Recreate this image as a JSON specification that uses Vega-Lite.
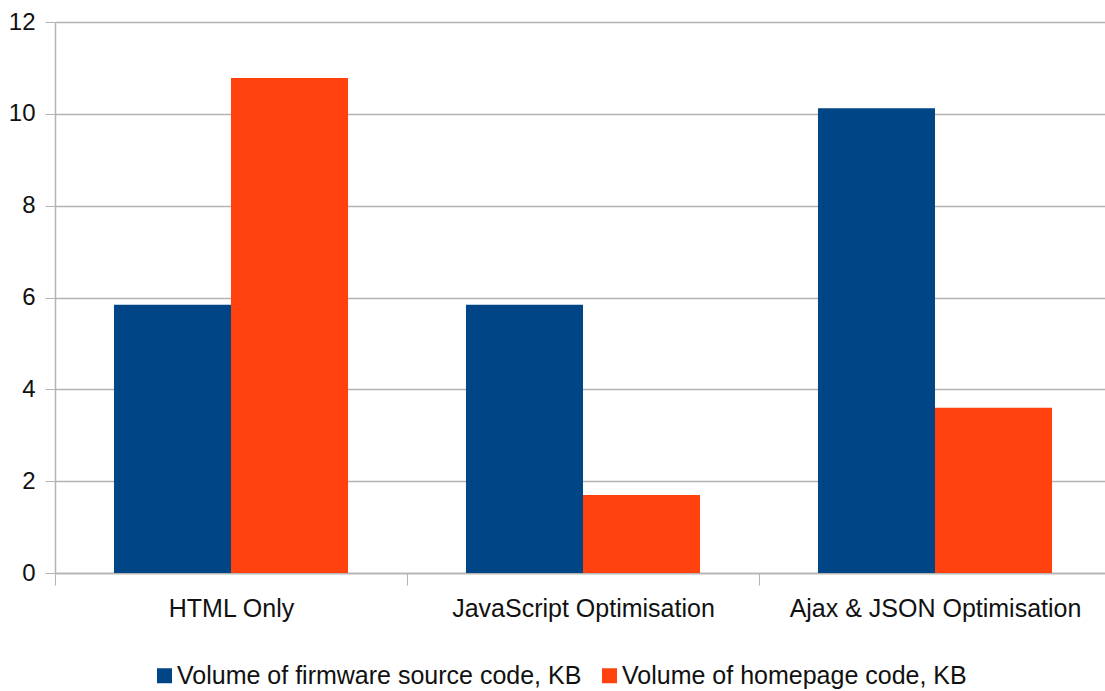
{
  "$schema": "https://vega.github.io/schema/vega-lite/v6.json",
  "autosize": {"type": "none"},
  "padding": {"left": 55, "top": 22, "right": 0, "bottom": 118},
  "width": 1050,
  "height": 551,
  "background": "white",
  "data": {
    "values": [
      {"approach": "HTML Only", "series": "Volume of firmware source code, KB", "kb": 5.84},
      {"approach": "HTML Only", "series": "Volume of homepage code, KB", "kb": 10.78},
      {"approach": "JavaScript Optimisation", "series": "Volume of firmware source code, KB", "kb": 5.84},
      {"approach": "JavaScript Optimisation", "series": "Volume of homepage code, KB", "kb": 1.7},
      {"approach": "Ajax & JSON Optimisation", "series": "Volume of firmware source code, KB", "kb": 10.12},
      {"approach": "Ajax & JSON Optimisation", "series": "Volume of homepage code, KB", "kb": 3.6}
    ]
  },
  "mark": {"type": "bar"},
  "encoding": {
    "x": {
      "field": "approach",
      "type": "nominal",
      "sort": null,
      "scale": {"paddingInner": 0, "paddingOuter": 0, "range": [0, 1056]},
      "axis": {
        "title": null,
        "labelAngle": 0,
        "tickBand": "extent",
        "tickSize": 12,
        "tickColor": "#b3b3b3",
        "domainColor": "#b3b3b3",
        "domainWidth": 1.5,
        "labelFont": "Liberation Sans",
        "labelFontSize": 25,
        "labelColor": "#111111",
        "labelPadding": 11,
        "labelLimit": 500
      }
    },
    "xOffset": {
      "field": "series",
      "sort": null,
      "scale": {"paddingInner": 0, "paddingOuter": 0.504}
    },
    "y": {
      "field": "kb",
      "type": "quantitative",
      "scale": {"domain": [0, 12], "nice": false},
      "axis": {
        "title": null,
        "values": [0, 2, 4, 6, 8, 10, 12],
        "gridColor": "#b3b3b3",
        "gridWidth": 1.5,
        "domainColor": "#b3b3b3",
        "domainWidth": 1.5,
        "tickColor": "#b3b3b3",
        "tickSize": 10,
        "labelFont": "Liberation Sans",
        "labelFontSize": 24,
        "labelColor": "#111111",
        "labelPadding": 10
      }
    },
    "color": {
      "field": "series",
      "type": "nominal",
      "sort": null,
      "scale": {
        "domain": ["Volume of firmware source code, KB", "Volume of homepage code, KB"],
        "range": ["#004586", "#ff420e"]
      },
      "legend": {
        "title": null,
        "orient": "none",
        "legendX": 97,
        "legendY": 641,
        "direction": "horizontal",
        "symbolType": "square",
        "symbolSize": 225,
        "symbolStrokeWidth": 0,
        "labelFont": "Liberation Sans",
        "labelFontSize": 25,
        "labelColor": "#111111",
        "labelOffset": 0,
        "labelLimit": 600,
        "columnPadding": 15
      }
    }
  },
  "config": {"view": {"stroke": null}}
}
